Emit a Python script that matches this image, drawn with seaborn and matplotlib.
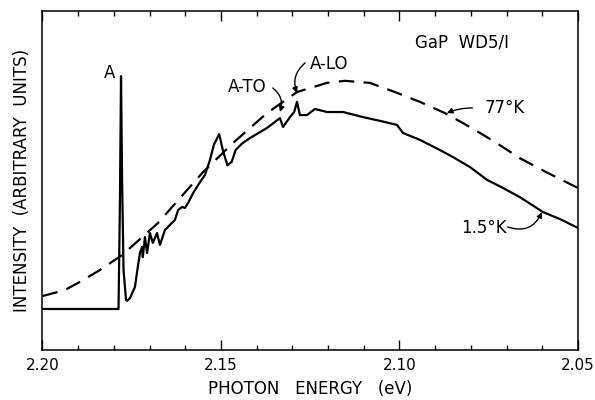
import matplotlib
matplotlib.use("Agg")
import matplotlib.pyplot as plt
import seaborn as sns
import pandas as pd
from matplotlib.ticker import MultipleLocator

# photoluminescence spectrum at 1.5 K (solid)
energy_15k = [2.2000, 2.1789, 2.1787, 2.1783, 2.1780, 2.1777, 2.1773, 2.1766,
              2.1763, 2.1755, 2.1741, 2.1733, 2.1727, 2.1721, 2.1719, 2.1713,
              2.1707, 2.1699, 2.1691, 2.1679, 2.1671, 2.1657, 2.1643, 2.1629,
              2.1620, 2.1609, 2.1601, 2.1592, 2.1578, 2.1559, 2.1545, 2.1531,
              2.1520, 2.1505, 2.1495, 2.1482, 2.1470, 2.1459, 2.1440, 2.1419,
              2.1395, 2.1371, 2.1335, 2.1326, 2.1307, 2.1295, 2.1287, 2.1279,
              2.1259, 2.1237, 2.1203, 2.1158, 2.1102, 2.1055, 2.1007, 2.0990,
              2.0943, 2.0887, 2.0850, 2.0803, 2.0755, 2.0710, 2.0663, 2.0598,
              2.0550, 2.0500]
intensity_15k = [1.21, 1.21, 1.21, 4.43, 8.08, 5.02, 2.36, 1.48,
                 1.45, 1.53, 1.86, 2.45, 2.86, 3.04, 2.74, 3.33,
                 2.86, 3.45, 3.16, 3.45, 3.10, 3.54, 3.69, 3.84,
                 4.13, 4.22, 4.19, 4.34, 4.63, 4.95, 5.16, 5.60,
                 6.05, 6.37, 5.90, 5.45, 5.55, 5.90, 6.10, 6.25,
                 6.40, 6.55, 6.84, 6.58, 6.87, 7.02, 7.32, 6.93,
                 6.93, 7.11, 7.02, 7.02, 6.87, 6.76, 6.64, 6.40,
                 6.20, 5.90, 5.69, 5.40, 5.02, 4.78, 4.51, 4.07,
                 3.86, 3.60]

# spectrum at 77 K (dashed)
energy_77k = [2.2000, 2.1937, 2.1895, 2.1839, 2.1777, 2.1676, 2.1615, 2.1550,
              2.1466, 2.1371, 2.1287, 2.1203, 2.1153, 2.1083, 2.1013, 2.0943,
              2.0873, 2.0803, 2.0733, 2.0663, 2.0584, 2.0500]
intensity_77k = [1.59, 1.77, 2.01, 2.36, 2.80, 3.75, 4.48, 5.25,
                 6.11, 6.99, 7.61, 7.88, 7.94, 7.88, 7.61, 7.32,
                 6.99, 6.58, 6.14, 5.66, 5.22, 4.78]

x_ticks = [2.20, 2.15, 2.10, 2.05]
x_tick_labels = ["2.20", "2.15", "2.10", "2.05"]

df15 = pd.DataFrame({"energy": energy_15k, "intensity": intensity_15k})
df77 = pd.DataFrame({"energy": energy_77k, "intensity": intensity_77k})

sns.set_style("ticks", {"axes.edgecolor": "black", "text.color": "black",
                        "xtick.color": "black", "axes.labelcolor": "black"})
plt.rcParams["font.family"] = ["DejaVu Sans"]

fig = plt.figure(figsize=(5.95, 4.0), dpi=100)
ax = fig.add_axes([0.0714, 0.125, 0.9, 0.8475])

sns.lineplot(data=df15, x="energy", y="intensity", ax=ax, color="black",
             linewidth=1.6, estimator=None, sort=False)
sns.lineplot(data=df77, x="energy", y="intensity", ax=ax, color="black",
             linewidth=1.6, estimator=None, sort=False)
ax.lines[1].set_dashes((7, 4.2))

ax.set_xlim(2.20, 2.05)
ax.set_ylim(0, 10)
ax.set_xticks(x_ticks)
ax.set_xticklabels(x_tick_labels)
ax.xaxis.set_minor_locator(MultipleLocator(0.01))
ax.set_yticks([])
ax.tick_params(axis="x", which="major", direction="in", length=7, width=1,
               top=True, labelsize=11, pad=6)
ax.tick_params(axis="x", which="minor", direction="in", length=3.5, width=1,
               top=True)
for s in ax.spines.values():
    s.set_linewidth(1.1)

ax.set_xlabel("PHOTON   ENERGY   (eV)", fontsize=12, labelpad=5)
ax.set_ylabel("INTENSITY  (ARBITRARY  UNITS)", fontsize=12, labelpad=8)

# labels
fs = 12
ax.text(2.1811, 8.17, "A", fontsize=fs, ha="center", va="center")
ax.text(2.0825, 9.06, "GaP  WD5/I", fontsize=fs, ha="center", va="center")
ax.text(2.1427, 7.76, "A-TO", fontsize=fs, ha="center", va="center")
ax.text(2.1197, 8.44, "A-LO", fontsize=fs, ha="center", va="center")
ax.text(2.0705, 7.14, "77°K", fontsize=fs, ha="center", va="center")
ax.text(2.0763, 3.60, "1.5°K", fontsize=fs, ha="center", va="center")

# arrows from the labels to the curves
arrow = dict(arrowstyle="-|>", color="black", lw=1, mutation_scale=8,
             shrinkA=0, shrinkB=0)
ax.annotate("", xy=(2.1335, 7.02), xytext=(2.1355, 7.73),
            arrowprops=dict(arrow, connectionstyle="arc3,rad=-0.35"))
ax.annotate("", xy=(2.1287, 7.58), xytext=(2.1264, 8.47),
            arrowprops=dict(arrow, connectionstyle="arc3,rad=0.35"))
ax.annotate("", xy=(2.0867, 6.99), xytext=(2.0796, 7.14),
            arrowprops=dict(arrow, connectionstyle="arc3,rad=0.1"))
ax.annotate("", xy=(2.0601, 4.07), xytext=(2.0697, 3.63),
            arrowprops=dict(arrow, connectionstyle="arc3,rad=0.45"))

fig.savefig("out.png", dpi=100)
